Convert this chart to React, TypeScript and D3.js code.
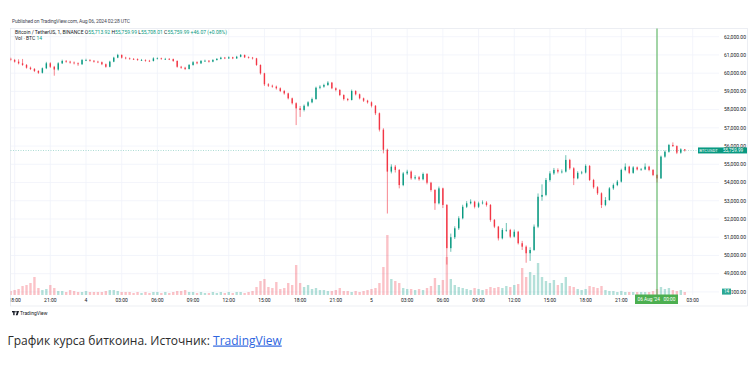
import { useEffect, useRef } from 'react';
import * as d3 from 'd3';

const WIDTH = 750;
const HEIGHT = 371;

// 20-minute candles from 2024-08-03 17:40 UTC, prices in thousands of USDT
const startTime = Date.UTC(2024, 7, 3, 17, 40);
const stepMinutes = 20;
const firstOpen = 60.8;

const closes = [
  60.72, 60.63, 60.54, 60.45, 60.3, 60.23, 60.12, 60.02, 60.27, 60.54,
  60.35, 60.2, 60.54, 60.67, 60.63, 60.58, 60.54, 60.49, 60.72, 60.72,
  60.68, 60.63, 60.6, 60.49, 60.35, 60.63, 60.85, 61.0, 60.85, 60.81,
  60.78, 60.77, 60.72, 60.72, 60.68, 60.67, 60.81, 60.81, 60.78, 60.78,
  60.77, 60.67, 60.35, 60.3, 60.23, 60.45, 60.6, 60.54, 60.67, 60.68,
  60.63, 60.72, 60.78, 60.85, 60.81, 60.87, 60.81, 60.9, 61.0, 60.87,
  60.85, 60.81, 60.45, 59.99, 59.39, 59.31, 59.26, 59.17, 59.02, 58.89,
  58.62, 58.35, 58.07, 57.98, 58.21, 58.4, 58.58, 59.2, 59.26, 59.35,
  59.48, 59.17, 59.08, 58.8, 58.58, 58.53, 59.02, 58.84, 58.62, 58.49,
  58.4, 58.21, 57.8, 56.9, 55.8, 54.6, 54.87, 54.69, 53.86, 54.5,
  54.6, 54.23, 54.29, 54.18, 54.47, 53.99, 53.59, 52.86, 53.68, 52.77,
  50.4, 51.0, 51.49, 52.04, 52.67, 52.86, 52.95, 52.67, 52.86, 52.9,
  52.77, 51.95, 51.58, 50.94, 51.4, 51.4, 51.03, 51.3, 50.67, 50.48,
  50.12, 50.3, 51.58, 53.22, 53.32, 54.14, 54.5, 54.69, 54.6, 54.6,
  55.24, 54.78, 54.23, 54.53, 54.55, 54.91, 54.14, 53.74, 53.41, 52.77,
  53.04, 53.68, 53.86, 54.05, 54.69, 54.87, 54.53, 54.83, 54.72, 54.72,
  54.87, 54.69, 54.41, 54.23, 55.42, 55.69, 56.06, 56.0, 55.64, 55.82,
  55.76,
];

const highs = [
  60.86, 60.78, 60.76, 60.78, 60.5, 60.36, 60.28, 60.16, 60.31, 60.62,
  60.6, 60.4, 60.6, 60.74, 60.72, 60.68, 60.64, 60.59, 60.78, 60.79,
  60.77, 60.72, 60.68, 60.64, 60.53, 60.68, 60.9, 61.06, 61.03, 60.9,
  60.86, 60.83, 60.81, 60.78, 60.76, 60.73, 60.87, 60.86, 60.85, 60.84,
  60.83, 60.8, 60.7, 60.4, 60.35, 60.5, 60.66, 60.65, 60.72, 60.74,
  60.72, 60.77, 60.83, 60.9, 60.89, 60.92, 60.9, 60.95, 61.05, 61.02,
  60.92, 60.89, 60.84, 60.48, 60.02, 59.45, 59.37, 59.32, 59.22, 59.08,
  58.93, 58.66, 58.4, 58.2, 58.28, 58.46, 58.66, 59.26, 59.34, 59.42,
  59.56, 59.52, 59.22, 59.12, 58.84, 58.64, 59.1, 59.06, 58.88, 58.66,
  58.54, 58.45, 58.25, 57.84, 56.98, 55.86, 55.0, 54.96, 54.74, 54.58,
  54.7, 54.66, 54.4, 54.36, 54.55, 54.52, 54.04, 53.64, 53.78, 53.72,
  52.82, 51.2, 51.6, 52.15, 52.78, 52.98, 53.08, 53.0, 52.95, 53.02,
  52.98, 52.82, 52.0, 51.62, 51.5, 51.78, 51.46, 51.42, 51.35, 50.8,
  50.55, 50.45, 51.7, 53.4, 53.9, 54.25, 54.62, 54.8, 54.78, 54.72,
  55.5, 55.3, 54.84, 54.62, 54.64, 55.0, 54.96, 54.2, 53.8, 53.46,
  53.2, 53.75, 53.95, 54.14, 54.76, 55.05, 54.92, 54.9, 54.88, 54.8,
  55.05, 54.92, 54.74, 54.46, 55.48, 55.76, 56.12, 56.2, 56.04, 55.88,
  55.84,
];

const lows = [
  60.66, 60.58, 60.48, 60.4, 60.25, 60.17, 60.06, 59.96, 59.98, 60.22,
  60.28, 59.86, 60.14, 60.5, 60.57, 60.52, 60.48, 60.4, 60.45, 60.66,
  60.63, 60.58, 60.55, 60.44, 60.3, 60.32, 60.6, 60.82, 60.8, 60.76,
  60.74, 60.72, 60.68, 60.67, 60.63, 60.61, 60.64, 60.76, 60.74, 60.73,
  60.72, 60.62, 60.3, 60.24, 60.17, 60.2, 60.41, 60.49, 60.5, 60.62,
  60.58, 60.6, 60.69, 60.75, 60.77, 60.78, 60.77, 60.78, 60.87, 60.83,
  60.8, 60.75, 60.4, 59.92, 59.3, 59.24, 59.2, 59.1, 58.96, 58.82,
  58.56, 58.28, 57.15, 57.6, 57.9, 58.15, 58.35, 58.54, 59.12, 59.2,
  59.3, 59.12, 59.0, 58.74, 58.5, 58.46, 58.5, 58.78, 58.56, 58.42,
  58.33, 58.12, 57.7, 56.8, 55.6, 52.3, 54.5, 54.55, 53.68, 53.8,
  54.42, 54.15, 54.16, 54.1, 54.12, 53.9, 53.5, 52.5, 52.8, 52.6,
  49.5, 50.2, 50.9, 51.4, 51.98, 52.6, 52.8, 52.58, 52.6, 52.8,
  52.68, 51.85, 51.5, 50.82, 50.88, 51.3, 50.95, 50.98, 50.6, 50.3,
  49.6, 49.7, 50.25, 51.5, 53.0, 53.25, 54.05, 54.42, 54.5, 54.5,
  54.55, 54.7, 53.86, 54.18, 54.45, 54.5, 54.08, 53.66, 53.32, 52.6,
  52.7, 53.0, 53.6, 53.8, 54.0, 54.62, 54.46, 54.48, 54.66, 54.65,
  54.68, 54.62, 54.35, 54.0, 54.2, 55.36, 55.64, 55.95, 55.56, 55.58,
  55.7,
];

// BTC, peak volume within each 20-minute window
const volumes = [
  100, 125, 150, 225, 250, 300, 450, 175, 125, 150,
  250, 175, 100, 100, 75, 125, 100, 75, 75, 100,
  75, 75, 75, 75, 100, 125, 125, 100, 75, 75,
  75, 50, 75, 50, 75, 50, 75, 75, 50, 75,
  50, 75, 100, 100, 125, 75, 75, 50, 75, 50,
  50, 75, 50, 75, 50, 75, 50, 75, 75, 50,
  75, 100, 200, 350, 400, 200, 175, 325, 150, 175,
  300, 250, 750, 300, 200, 250, 150, 175, 125, 125,
  100, 100, 125, 175, 100, 100, 75, 100, 75, 100,
  125, 150, 175, 300, 700, 1500, 400, 350, 300, 175,
  150, 150, 125, 150, 125, 175, 225, 425, 250, 375,
  950, 400, 250, 200, 175, 150, 125, 175, 150, 125,
  150, 200, 175, 200, 175, 225, 200, 250, 275, 675,
  450, 575, 500, 800, 450, 350, 300, 375, 250, 300,
  450, 225, 200, 150, 125, 150, 225, 200, 175, 225,
  125, 100, 100, 75, 100, 75, 75, 75, 75, 75,
  75, 75, 100, 150, 200, 150, 175, 125, 100, 125,
  75,
];

const priceTicks = [
  48000, 49000, 50000, 51000, 52000, 53000, 54000, 55000,
  56000, 57000, 58000, 59000, 60000, 61000, 62000,
];

// the 6 Aug midnight label sits under the crosshair tag, so it stays empty
const timeTickLabels = [
  '18:00', '21:00', '4', '03:00', '06:00', '09:00', '12:00', '15:00', '18:00', '21:00',
  '5', '03:00', '06:00', '09:00', '12:00', '15:00', '18:00', '21:00', '', '03:00',
];

const lastPrice = 55759.99;
const lastVolume = 14;
const crosshairTime = Date.UTC(2024, 7, 6, 0, 0);

const UP = '#089981';
const DOWN = '#f23645';

export default function App() {
  const svgRef = useRef<SVGSVGElement>(null);

  useEffect(() => {
    if (!svgRef.current) return;
    const svg = d3.select(svgRef.current);
    svg.selectAll('*').remove();

    const plot = { left: 10.5, right: 719, top: 28.5, bottom: 295 };
    const font = 'Roboto, "Liberation Sans", sans-serif';

    const x = d3
      .scaleUtc()
      .domain([new Date(Date.UTC(2024, 7, 4)), new Date(Date.UTC(2024, 7, 6))])
      .range([86, 657]);
    const y = d3.scaleLinear().domain([48000, 62000]).range([291.9, 36.7]);
    const yVol = d3.scaleLinear().domain([0, 1500]).range([plot.bottom, plot.bottom - 60]);

    const candles = closes.map((c, i) => {
      const open = i === 0 ? firstOpen : closes[i - 1];
      return {
        time: new Date(startTime + i * stepMinutes * 60000),
        open: open * 1000,
        close: c * 1000,
        high: highs[i] * 1000,
        low: lows[i] * 1000,
        volume: volumes[i],
      };
    });

    svg.append('rect').attr('width', WIDTH).attr('height', HEIGHT).attr('fill', '#fff');

    const defs = svg.append('defs');
    defs
      .append('clipPath')
      .attr('id', 'plot-clip')
      .append('rect')
      .attr('x', plot.left)
      .attr('y', plot.top)
      .attr('width', plot.right - plot.left)
      .attr('height', plot.bottom - plot.top);
    defs
      .append('clipPath')
      .attr('id', 'time-clip')
      .append('rect')
      .attr('x', plot.left)
      .attr('y', plot.bottom)
      .attr('width', plot.right - plot.left)
      .attr('height', 12);
    // the volume tag hides the left part of the lowest price label
    defs
      .append('clipPath')
      .attr('id', 'low-label-clip')
      .append('rect')
      .attr('x', 731.5)
      .attr('y', 280)
      .attr('width', 20)
      .attr('height', 20);

    // header
    svg
      .append('text')
      .attr('x', 12)
      .attr('y', 23.3)
      .attr('textLength', 118)
      .style('font-family', font)
      .style('font-size', '5px')
      .style('fill', '#434651')
      .text('Published on TradingView.com, Aug 06, 2024 02:28 UTC');

    // frame
    svg
      .append('rect')
      .attr('x', plot.left)
      .attr('y', plot.top)
      .attr('width', 737)
      .attr('height', 277.5)
      .attr('fill', 'none')
      .attr('stroke', '#e0e3eb')
      .attr('stroke-width', 0.6);

    // grid
    const grid = svg.append('g').attr('clip-path', 'url(#plot-clip)');
    grid
      .selectAll('line.h')
      .data(priceTicks)
      .join('line')
      .attr('x1', plot.left)
      .attr('x2', plot.right)
      .attr('y1', (d) => y(d))
      .attr('y2', (d) => y(d))
      .attr('stroke', '#f0f3fa')
      .attr('stroke-width', 0.8);

    const timeTicks = d3.utcHour
      .every(3)!
      .range(new Date(Date.UTC(2024, 7, 3, 18)), new Date(Date.UTC(2024, 7, 6, 4)));
    const ticks = timeTicks.map((t, i) => ({ t, label: timeTickLabels[i] }));

    grid
      .selectAll('line.v')
      .data(ticks)
      .join('line')
      .attr('x1', (d) => x(d.t))
      .attr('x2', (d) => x(d.t))
      .attr('y1', plot.top)
      .attr('y2', plot.bottom)
      .attr('stroke', '#f0f3fa')
      .attr('stroke-width', 0.8);

    // volume
    const step = x(new Date(startTime + stepMinutes * 60000)) - x(new Date(startTime));
    const marks = svg.append('g').attr('clip-path', 'url(#plot-clip)');
    marks
      .selectAll('rect.vol')
      .data(candles)
      .join('rect')
      .attr('x', (d) => x(d.time) - step * 0.3)
      .attr('width', step * 0.6)
      .attr('y', (d) => yVol(d.volume))
      .attr('height', (d) => plot.bottom - yVol(d.volume))
      .attr('fill', (d) => (d.close >= d.open ? UP : DOWN))
      .attr('opacity', 0.3);

    // candles
    marks
      .selectAll('line.wick')
      .data(candles)
      .join('line')
      .attr('x1', (d) => x(d.time))
      .attr('x2', (d) => x(d.time))
      .attr('y1', (d) => y(d.high))
      .attr('y2', (d) => y(d.low))
      .attr('stroke', (d) => (d.close >= d.open ? UP : DOWN))
      .attr('stroke-width', 0.6);

    marks
      .selectAll('rect.body')
      .data(candles)
      .join('rect')
      .attr('x', (d) => x(d.time) - 0.7)
      .attr('width', 1.4)
      .attr('y', (d) => y(Math.max(d.open, d.close)))
      .attr('height', (d) => Math.max(0.7, Math.abs(y(d.open) - y(d.close))))
      .attr('fill', (d) => (d.close >= d.open ? UP : DOWN));

    // last price line
    svg
      .append('line')
      .attr('x1', plot.left)
      .attr('x2', plot.right)
      .attr('y1', y(lastPrice))
      .attr('y2', y(lastPrice))
      .attr('stroke', UP)
      .attr('stroke-width', 0.7)
      .attr('stroke-dasharray', '1,1.5')
      .attr('opacity', 0.5);

    // crosshair
    const cx = x(new Date(crosshairTime));
    svg
      .append('line')
      .attr('x1', cx)
      .attr('x2', cx)
      .attr('y1', plot.top)
      .attr('y2', plot.bottom)
      .attr('stroke', '#4caf50')
      .attr('stroke-width', 1);

    // price labels
    const fmt = d3.format(',.2f');
    svg
      .append('g')
      .selectAll('text')
      .data(priceTicks)
      .join('text')
      .attr('x', 746)
      .attr('y', (d) => y(d) + 1.8)
      .attr('text-anchor', 'end')
      .attr('clip-path', (d, i) => (i === 0 ? 'url(#low-label-clip)' : null))
      .style('font-family', font)
      .style('font-size', '5px')
      .style('fill', '#131722')
      .text((d) => fmt(d));

    // time labels
    svg
      .append('g')
      .attr('clip-path', 'url(#time-clip)')
      .selectAll('text')
      .data(ticks.filter((d) => d.label))
      .join('text')
      .attr('x', (d) => x(d.t))
      .attr('y', 301.7)
      .attr('text-anchor', 'middle')
      .style('font-family', font)
      .style('font-size', '5px')
      .style('fill', '#131722')
      .text((d) => d.label);

    // last price tags
    const ly = y(lastPrice);
    svg
      .append('rect')
      .attr('x', 698)
      .attr('y', ly - 3)
      .attr('width', 21)
      .attr('height', 6)
      .attr('fill', UP);
    svg
      .append('text')
      .attr('x', 708.5)
      .attr('y', ly + 1.6)
      .attr('text-anchor', 'middle')
      .style('font-family', font)
      .style('font-size', '4.3px')
      .style('fill', '#fff')
      .text('BTCUSDT');
    svg
      .append('rect')
      .attr('x', 719)
      .attr('y', ly - 3)
      .attr('width', 28)
      .attr('height', 6)
      .attr('fill', UP);
    svg
      .append('text')
      .attr('x', 733)
      .attr('y', ly + 1.7)
      .attr('text-anchor', 'middle')
      .style('font-family', font)
      .style('font-size', '4.6px')
      .style('fill', '#fff')
      .text(fmt(lastPrice));

    // volume tag
    svg
      .append('rect')
      .attr('x', 722)
      .attr('y', 288.6)
      .attr('width', 9)
      .attr('height', 6)
      .attr('fill', UP)
      .attr('opacity', 0.85);
    svg
      .append('text')
      .attr('x', 726.5)
      .attr('y', 293.2)
      .attr('text-anchor', 'middle')
      .style('font-family', font)
      .style('font-size', '4.6px')
      .style('fill', '#fff')
      .text(String(lastVolume));

    // crosshair time tag
    svg
      .append('rect')
      .attr('x', cx - 22)
      .attr('y', 294.5)
      .attr('width', 43)
      .attr('height', 9.5)
      .attr('fill', '#4caf50');
    svg
      .append('text')
      .attr('x', cx - 0.5)
      .attr('y', 301.3)
      .attr('text-anchor', 'middle')
      .attr('xml:space', 'preserve')
      .style('font-family', font)
      .style('font-size', '4.8px')
      .style('fill', '#fff')
      .text("06 Aug '24   00:00");

    // legend
    const legend = svg
      .append('text')
      .attr('x', 15)
      .attr('y', 34.3)
      .style('font-family', font)
      .style('font-size', '5px')
      .style('fill', '#131722');
    legend.append('tspan').text('Bitcoin / TetherUS, 1, BINANCE ');
    const ohlc: [string, string][] = [
      ['O', '55,713.92'],
      ['H', '55,759.99'],
      ['L', '55,708.01'],
      ['C', '55,759.99'],
    ];
    ohlc.forEach(([k, v]) => {
      legend.append('tspan').text(' ' + k);
      legend.append('tspan').style('fill', UP).text(v);
    });
    legend.append('tspan').style('fill', UP).text(' +46.07 (+0.08%)');

    const vol = svg
      .append('text')
      .attr('x', 15)
      .attr('y', 40.3)
      .style('font-family', font)
      .style('font-size', '5px')
      .style('fill', '#131722');
    vol.append('tspan').text('Vol · BTC ');
    vol.append('tspan').style('fill', UP).text(String(lastVolume));

    // TradingView mark
    const logo = svg.append('g').attr('transform', 'translate(12,311)');
    logo.append('rect').attr('x', 0).attr('y', 0).attr('width', 2.6).attr('height', 1.4).attr('fill', '#131722');
    logo.append('rect').attr('x', 1.2).attr('y', 0).attr('width', 1.4).attr('height', 4.2).attr('fill', '#131722');
    logo.append('circle').attr('cx', 4).attr('cy', 0.8).attr('r', 0.8).attr('fill', '#131722');
    logo.append('path').attr('d', 'M5.2,0 L7,0 L5.6,4.2 L3.8,4.2 Z').attr('fill', '#131722');
    svg
      .append('text')
      .attr('x', 20)
      .attr('y', 315)
      .style('font-family', font)
      .style('font-size', '5px')
      .style('fill', '#131722')
      .text('TradingView');

    // caption
    const caption = svg
      .append('text')
      .attr('x', 7.5)
      .attr('y', 344.5)
      .style('font-family', '"Open Sans", sans-serif')
      .style('font-size', '12px')
      .style('fill', '#2b2b2b');
    caption.append('tspan').text('График курса биткоина. Источник: ');
    caption
      .append('tspan')
      .style('fill', '#2f66e0')
      .style('text-decoration', 'underline')
      .text('TradingView');
  }, []);

  return (
    <div style={{ position: 'absolute', left: 0, top: 0, width: WIDTH, height: HEIGHT }}>
      <svg ref={svgRef} width={WIDTH} height={HEIGHT} />
    </div>
  );
}
